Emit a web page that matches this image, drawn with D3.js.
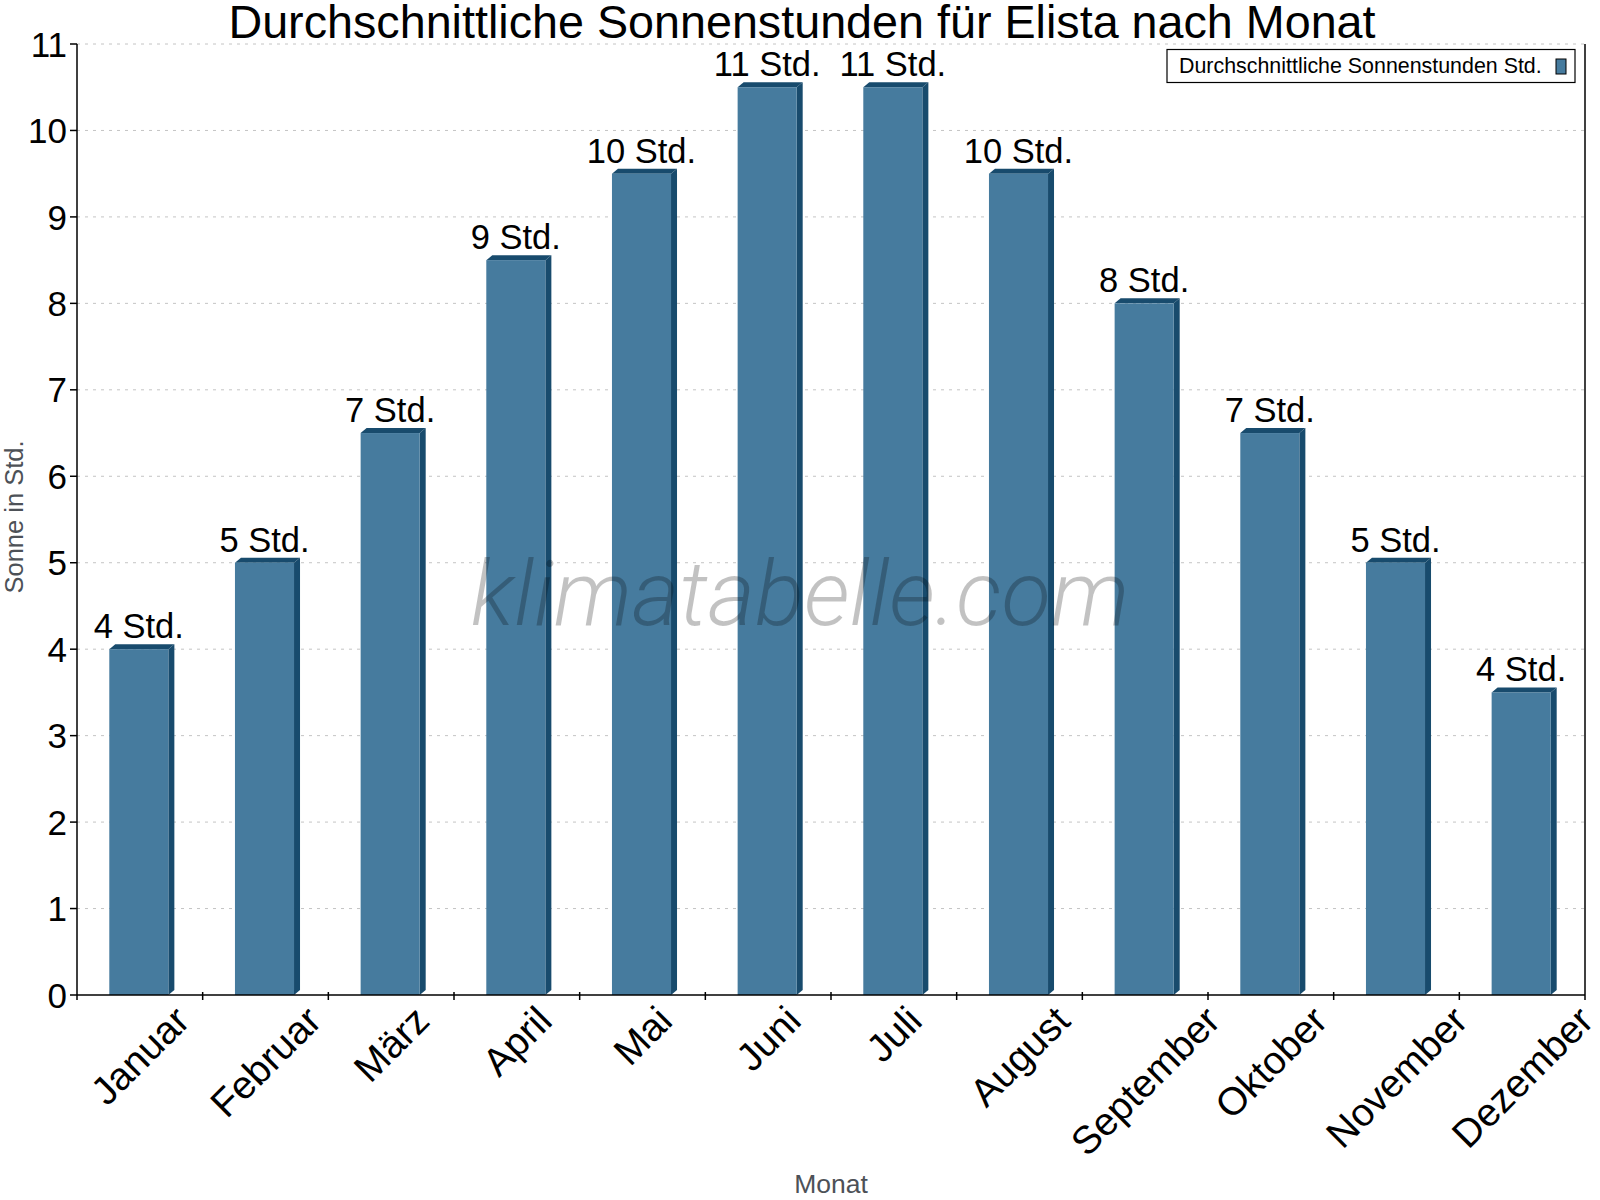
<!DOCTYPE html>
<html>
<head>
<meta charset="utf-8">
<script src="https://cdn.jsdelivr.net/npm/d3@7"></script>
<style>
body { margin: 0; background: #fff; }
svg text { font-family: "Liberation Sans", Arial, sans-serif; }
</style>
</head>
<body>
<div id="chart"></div>
<script>
var months = ["Januar","Februar","März","April","Mai","Juni","Juli","August","September","Oktober","November","Dezember"];
var sunHours = [4, 5, 6.5, 8.5, 9.5, 10.5, 10.5, 9.5, 8, 6.5, 5, 3.5];
var sunLabels = ["4 Std.","5 Std.","7 Std.","9 Std.","10 Std.","11 Std.","11 Std.","10 Std.","8 Std.","7 Std.","5 Std.","4 Std."];
var yTicks = [0,1,2,3,4,5,6,7,8,9,10,11];

var width = 1600, height = 1200;
var plotLeft = 77, plotRight = 1585, plotTop = 44, plotBottom = 995;
var front = "#467b9e", dark = "#184b6d";

var svg = d3.select("#chart").append("svg")
  .attr("width", width)
  .attr("height", height);

var x = d3.scaleBand().domain(months).range([plotLeft, plotRight]).padding(0);
var y = d3.scaleLinear().domain([0, 11]).range([plotBottom, plotTop]);

var barW = x.bandwidth() * 0.47;
var barOff = x.bandwidth() * 0.257;
var dx = 6, dy = 5;

// grid
svg.append("g").selectAll("line")
  .data(yTicks.slice(1))
  .enter().append("line")
  .attr("x1", plotLeft).attr("x2", plotRight)
  .attr("y1", function(d){ return y(d); })
  .attr("y2", function(d){ return y(d); })
  .attr("stroke", "#c4c4c4")
  .attr("stroke-width", 1)
  .attr("stroke-dasharray", "3,5");

// bars
var data = months.map(function(m, i){ return {m: m, v: sunHours[i], l: sunLabels[i]}; });
var bars = svg.append("g").selectAll("g").data(data).enter().append("g");

bars.append("path")
  .attr("fill", dark)
  .attr("d", function(d){
    var x1 = x(d.m) + barOff + barW, yt = y(d.v);
    return "M" + x1 + "," + yt + "L" + (x1 + dx) + "," + (yt - dy) +
      "L" + (x1 + dx) + "," + (y(0) - dy) + "L" + x1 + "," + y(0) + "Z";
  });
bars.append("path")
  .attr("fill", dark)
  .attr("d", function(d){
    var x0 = x(d.m) + barOff, x1 = x0 + barW, yt = y(d.v);
    return "M" + x0 + "," + yt + "L" + (x0 + dx) + "," + (yt - dy) +
      "L" + (x1 + dx) + "," + (yt - dy) + "L" + x1 + "," + yt + "Z";
  });
bars.append("rect")
  .attr("x", function(d){ return x(d.m) + barOff; })
  .attr("y", function(d){ return y(d.v); })
  .attr("width", barW)
  .attr("height", function(d){ return y(0) - y(d.v); })
  .attr("fill", front);

bars.append("text")
  .attr("x", function(d){ return x(d.m) + barOff + barW / 2; })
  .attr("y", function(d){ return y(d.v) - 11; })
  .attr("text-anchor", "middle")
  .attr("font-size", 34.5)
  .attr("fill", "#000")
  .text(function(d){ return d.l; });

// watermark
svg.append("text")
  .attr("x", 800).attr("y", 625)
  .attr("text-anchor", "middle")
  .style("font-family", "Roboto, sans-serif")
  .attr("font-weight", 300)
  .attr("font-style", "italic")
  .attr("font-size", 91)
  .attr("fill", "#000")
  .attr("fill-opacity", 0.24)
  .text("klimatabelle.com");

// axes frame
svg.append("line").attr("x1", plotLeft).attr("x2", plotLeft).attr("y1", plotTop).attr("y2", 1000).attr("stroke", "#000").attr("stroke-width", 1.5);
svg.append("line").attr("x1", plotRight).attr("x2", plotRight).attr("y1", plotTop).attr("y2", 1000).attr("stroke", "#000").attr("stroke-width", 1.5);
svg.append("line").attr("x1", plotLeft).attr("x2", plotRight).attr("y1", plotBottom).attr("y2", plotBottom).attr("stroke", "#000").attr("stroke-width", 1.5);

var yt = svg.append("g").selectAll("g").data(yTicks).enter().append("g");
yt.append("line")
  .attr("x1", 70).attr("x2", plotLeft)
  .attr("y1", function(d){ return y(d); }).attr("y2", function(d){ return y(d); })
  .attr("stroke", "#000").attr("stroke-width", 1.5);
yt.append("text")
  .attr("x", 67)
  .attr("y", function(d){ return y(d); })
  .attr("dy", "0.36em")
  .attr("text-anchor", "end")
  .attr("font-size", 35)
  .text(function(d){ return d; });

// x ticks at band boundaries
var bounds = months.map(function(m){ return x(m); }).concat([plotRight]);
svg.append("g").selectAll("line").data(bounds.slice(1, -1)).enter().append("line")
  .attr("x1", function(d){ return d; }).attr("x2", function(d){ return d; })
  .attr("y1", 992).attr("y2", 1000)
  .attr("stroke", "#000").attr("stroke-width", 1.5);

// rotated month labels: bounding box centred on the band, top at fixed line
var labelSize = 39;
var xl = svg.append("g").selectAll("text").data(months).enter().append("text")
  .attr("text-anchor", "middle")
  .attr("dy", "0.35em")
  .attr("font-size", labelSize)
  .text(function(d){ return d; });
xl.attr("transform", function(d){
  var len = this.getComputedTextLength();
  var half = 0.7071 * (len + labelSize * 0.75) / 2;
  return "translate(" + (x(d) + x.bandwidth() / 2) + "," + (1003 + half) + ") rotate(-45)";
});

// titles
svg.append("text")
  .attr("x", 802).attr("y", 38)
  .attr("text-anchor", "middle")
  .attr("font-size", 46.7)
  .text("Durchschnittliche Sonnenstunden für Elista nach Monat");

svg.append("text")
  .attr("x", 831).attr("y", 1193)
  .attr("text-anchor", "middle")
  .attr("font-size", 26.5)
  .attr("fill", "#4d5157")
  .text("Monat");

svg.append("text")
  .attr("transform", "translate(23,517) rotate(-90)")
  .attr("text-anchor", "middle")
  .attr("font-size", 25.5)
  .attr("fill", "#4d5157")
  .text("Sonne in Std.");

// legend
svg.append("rect")
  .attr("x", 1167).attr("y", 49.5)
  .attr("width", 408).attr("height", 33)
  .attr("fill", "#fff").attr("stroke", "#000").attr("stroke-width", 1.2);
svg.append("text")
  .attr("x", 1179).attr("y", 73)
  .attr("font-size", 21.4)
  .text("Durchschnittliche Sonnenstunden Std.");
svg.append("rect")
  .attr("x", 1556).attr("y", 59)
  .attr("width", 10).attr("height", 15)
  .attr("fill", front).attr("stroke", "#000").attr("stroke-width", 1);
</script>
</body>
</html>
